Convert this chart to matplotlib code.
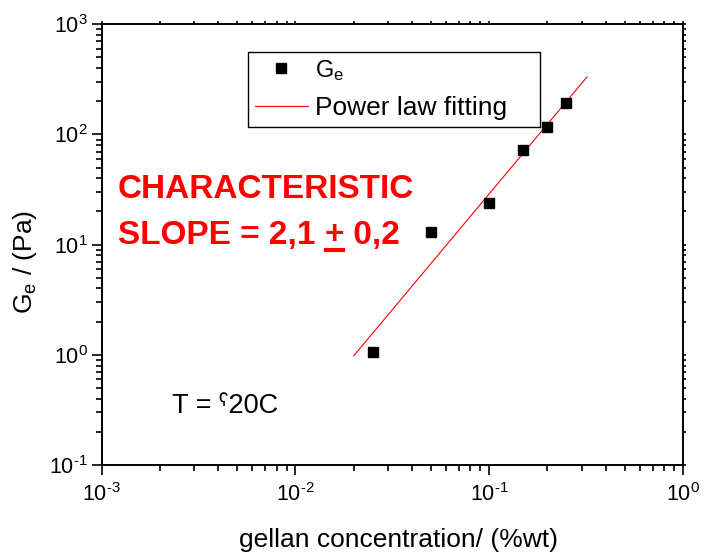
import numpy as np
import matplotlib
matplotlib.use("Agg")
import matplotlib.pyplot as plt
from matplotlib.lines import Line2D
from matplotlib.ticker import FuncFormatter

plt.rcParams['font.family'] = ['Liberation Sans', 'DejaVu Sans']
plt.rcParams['mathtext.fontset'] = 'custom'
plt.rcParams['mathtext.rm'] = 'Liberation Sans'
plt.rcParams['mathtext.it'] = 'Liberation Sans'
plt.rcParams['axes.unicode_minus'] = False

# gellan concentration (%wt) and plateau modulus Ge (Pa)
conc = [0.025, 0.05, 0.10, 0.15, 0.20, 0.25]
Ge = [1.07, 13.1, 23.7, 72.0, 116.0, 194.0]

# power law fit line end points (slope ~2.1)
fit_conc = [0.02, 0.32]
fit_Ge = [0.98, 333.0]

fig = plt.figure(figsize=(7.04, 5.53), dpi=100)
ax = fig.add_axes([0.1445, 0.1591, 0.8255, 0.7970])

ax.plot(conc, Ge, 's', color='black', ms=6.5, label='G$_e$', zorder=3)
ax.plot(fit_conc, fit_Ge, '-', color='red', lw=0.8, label='Power law fitting')

ax.set_xscale('log')
ax.set_yscale('log')
ax.set_xlim(1e-3, 1e0)
ax.set_ylim(1e-1, 1e3)


def pow10(v, pos):
    e = int(round(np.log10(v)))
    s = str(abs(e))
    if e < 0:
        s = '\u2010' + s
    return r'$\mathregular{10^{%s}}$' % s


ax.xaxis.set_major_formatter(FuncFormatter(pow10))
ax.yaxis.set_major_formatter(FuncFormatter(pow10))

ax.tick_params(which='both', direction='out', labelsize=15.5, width=1.2, pad=3)
ax.tick_params(which='major', length=7)
ax.tick_params(which='minor', length=4.5)
ax.tick_params(axis='x', pad=6)
ax.tick_params(which='both', top=True, right=True)
for s in ax.spines.values():
    s.set_linewidth(1.4)
# short ticks on the top and right spines
for t in ax.xaxis.get_major_ticks() + ax.xaxis.get_minor_ticks():
    t.tick2line.set_markersize(2.5)
for t in ax.yaxis.get_major_ticks() + ax.yaxis.get_minor_ticks():
    t.tick2line.set_markersize(2.5)

ax.set_xlabel('gellan concentration/ (%wt)', fontsize=19)
ax.set_ylabel('G$_e$ / (Pa)', fontsize=19)
ax.xaxis.set_label_coords(0.51, -0.170)
ax.yaxis.set_label_coords(-0.132, 0.461)
ax.xaxis.label.set_va('center')
ax.yaxis.label.set_va('center')

leg = ax.legend(loc='lower left', bbox_to_anchor=(0.252, 0.767, 0.502, 0.177),
                mode='expand', borderaxespad=0, fontsize=19, fancybox=False,
                edgecolor='black', framealpha=1, handlelength=2.0,
                handletextpad=0.3, labelspacing=0.5, borderpad=0.25)
leg.get_frame().set_linewidth(1.0)
leg.get_texts()[0].set_fontsize(17)

ax.text(0.028, 0.606, 'CHARACTERISTIC', transform=ax.transAxes, color='red',
        fontsize=24, fontweight='bold', va='baseline')
t1 = ax.text(0.028, 0.501, 'SLOPE = 2,1 ', transform=ax.transAxes, color='red',
             fontsize=24, fontweight='bold', va='baseline')
t2 = ax.annotate('+', xy=(1, 0), xycoords=t1, va='bottom', color='red',
                 fontsize=24, fontweight='bold')
t3 = ax.annotate(' 0,2', xy=(1, 0), xycoords=t2, va='bottom', color='red',
                 fontsize=24, fontweight='bold')

ax.text(0.121, 0.118, 'T = \u02c120C', transform=ax.transAxes, fontsize=19.5,
        va='baseline')

fig.canvas.draw()
bb = t2.get_window_extent()
inv = fig.transFigure.inverted()
(x0, y0), (x1, y1) = inv.transform([(bb.x0 + 1, bb.y0 + 1), (bb.x1 - 1, bb.y0 + 1)])
fig.add_artist(Line2D([x0, x1], [y0, y0], color='red', lw=3, transform=fig.transFigure))

fig.savefig('out.png', dpi=100)
